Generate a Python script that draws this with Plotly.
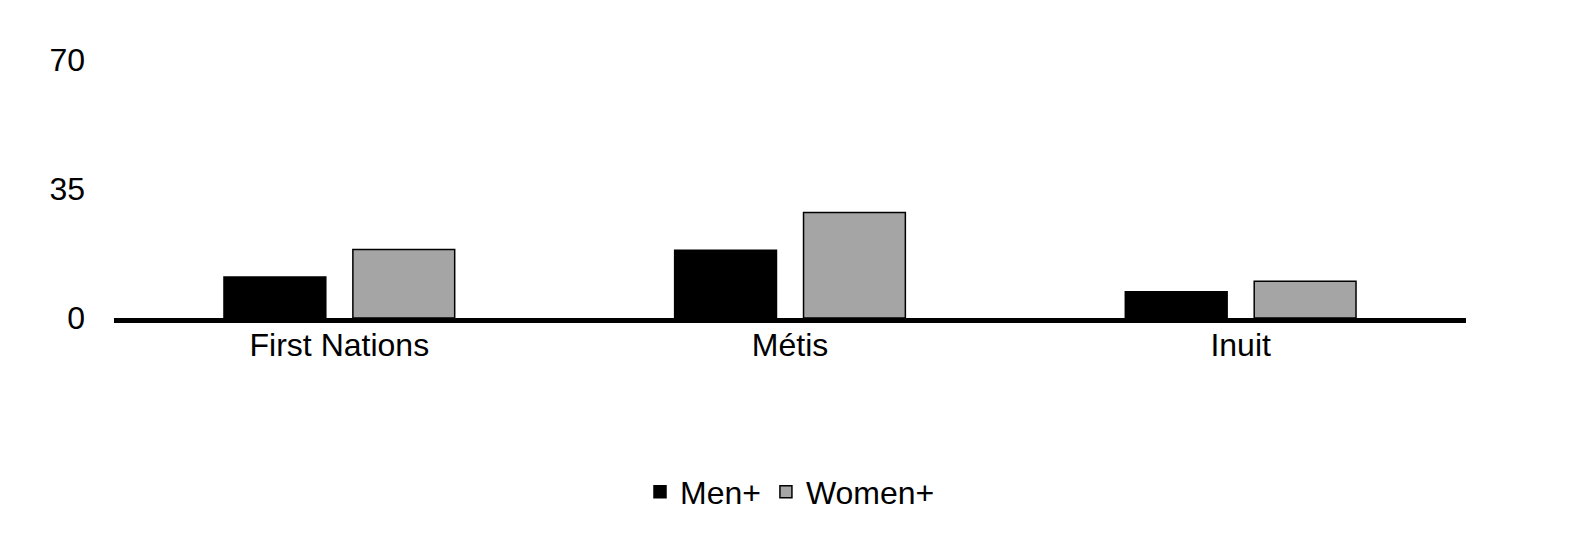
import plotly.graph_objects as go

categories = ["First Nations", "Métis", "Inuit"]
men = [11.1, 18.4, 7.1]
women = [18.6, 28.6, 10.0]
y_ticks = [0, 35, 70]

fig = go.Figure()
fig.add_trace(go.Bar(name="Men+", x=categories, y=men,
                     marker=dict(color="#000000", line=dict(color="#000000", width=1.5))))
fig.add_trace(go.Bar(name="Women+", x=categories, y=women,
                     marker=dict(color="#A5A5A5", line=dict(color="#000000", width=1.5))))

font_family = "Liberation Sans, Arial, sans-serif"
fig.update_layout(
    width=1564, height=542,
    margin=dict(l=106, r=106, t=52, b=232),
    paper_bgcolor="white", plot_bgcolor="white",
    barmode="group", bargap=0.428, bargroupgap=0.21,
    font=dict(family=font_family, size=32, color="#000000"),
    showlegend=True,
    legend=dict(orientation="h", x=0.5, xanchor="center", y=-0.674, yanchor="middle",
                font=dict(size=32), itemwidth=30, traceorder="normal"),
    xaxis=dict(showline=True, linecolor="#000000", linewidth=5, ticks="",
               showgrid=False, zeroline=False, tickfont=dict(size=32),
               ticklabelstandoff=-5),
    yaxis=dict(range=[0, 70], tickvals=y_ticks, showgrid=False, zeroline=False,
               showline=False, ticks="", ticklabelstandoff=28, tickfont=dict(size=32)),
)

fig.write_html("out.html")
